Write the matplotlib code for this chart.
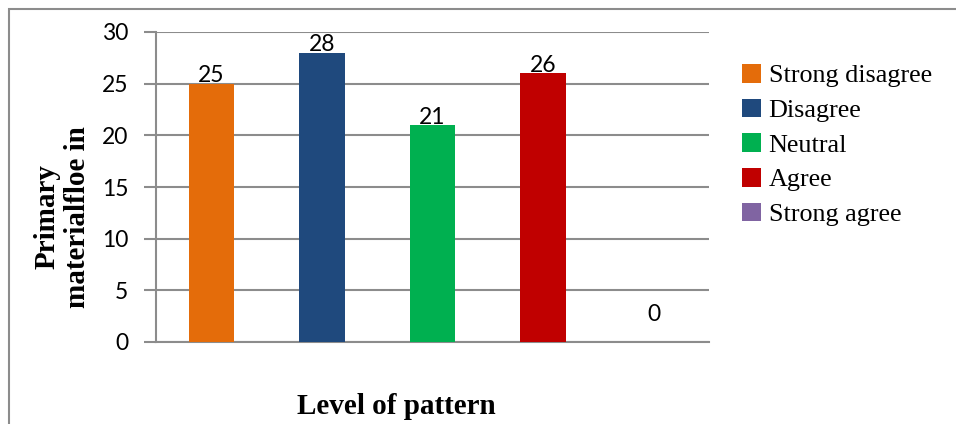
import matplotlib
matplotlib.use("Agg")
import matplotlib.pyplot as plt
from matplotlib.patches import Rectangle, Patch

# data
categories = ["Strong disagree", "Disagree", "Neutral", "Agree", "Strong agree"]
values = [25, 28, 21, 26, 0]
colors = ["#E46C0A", "#1F497D", "#00B050", "#C00000", "#8064A2"]
yticks = [0, 5, 10, 15, 20, 25, 30]

GRID = "#8C8C8C"
W, H = 956, 424

fig = plt.figure(figsize=(W / 100, H / 100), dpi=100)
ax = fig.add_axes([156 / W, 1 - 342 / H, (709 - 156) / W, (342 - 32) / H])

x = range(len(categories))
ax.bar(x, values, width=0.41, color=colors, zorder=3)
for xi, v in zip(x, values):
    off = -2 if v > 0 else 12
    ax.annotate(str(v), (xi, v), xytext=(0, off), textcoords="offset points",
                ha="center", va="bottom", fontsize=16.5, family="Lato", color="black",
                zorder=4)

ax.set_xlim(-0.5, len(categories) - 0.5)
ax.set_ylim(0, 30)
ax.set_yticks(yticks)
ax.set_yticklabels([str(t) for t in yticks], fontsize=16.5, family="Lato")
ax.tick_params(axis="y", length=9, width=1.5, color=GRID, pad=11)
ax.tick_params(axis="x", length=0, labelbottom=False)
ax.yaxis.grid(True, color=GRID, linewidth=1.5, zorder=0)
for s in ["top", "right"]:
    ax.spines[s].set_visible(False)
for s in ["left", "bottom"]:
    ax.spines[s].set_color(GRID)
    ax.spines[s].set_linewidth(1.5)

fig.text(62 / W, 1 - 217 / H, "Primary\nmaterialfloe in", rotation=90,
         ha="center", va="center", fontsize=21, fontweight="bold",
         family="Liberation Serif", linespacing=1.15)
fig.text(396 / W, 1 - 406 / H, "Level of pattern", ha="center", va="center",
         fontsize=21, fontweight="bold", family="Liberation Serif")

handles = [Patch(facecolor=c, edgecolor="none") for c in colors]
fig.legend(handles, categories, loc="upper left", bbox_to_anchor=(742 / W, 1 - 64 / H),
           frameon=False, prop={"family": "Liberation Serif", "size": 18.8},
           handlelength=0.72, handleheight=0.72, handletextpad=0.3,
           labelspacing=0.43, borderaxespad=0, borderpad=0)

# outer chart frame
fig.patches.append(Rectangle((9 / W, -0.1), 1.1, 1 - 9 / H + 0.1, transform=fig.transFigure,
                             fill=False, edgecolor="#8C8C8C", linewidth=1.5))

fig.savefig("out.png", dpi=100)
